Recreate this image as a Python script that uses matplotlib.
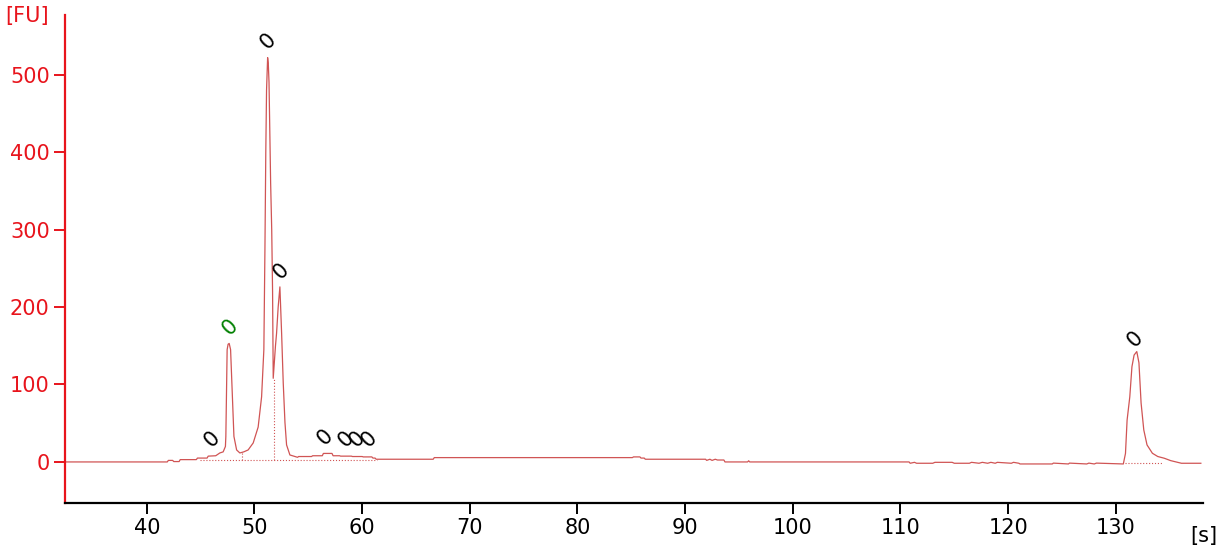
"""
Electropherogram trace (fluorescence vs migration time) with peak markers.
"""

import matplotlib
matplotlib.use("Agg")
import matplotlib.pyplot as plt

# trace: migration time [s] and fluorescence [FU]
time_s = [
    32.4, 41.9, 42.0, 42.4, 42.5, 43.0, 43.1, 44.6, 44.7, 45.6, 45.7, 46.4,
    46.78, 47.09, 47.3, 47.34, 47.46, 47.55, 47.65, 47.78, 47.96, 48.09,
    48.34, 48.64, 49.0, 49.41, 49.88, 50.34, 50.66, 50.87, 50.97, 51.05,
    51.12, 51.22, 51.28, 51.35, 51.42, 51.5, 51.6, 51.68, 51.74, 51.85,
    51.95, 52.05, 52.2, 52.36, 52.52, 52.67, 52.83, 52.98, 53.29, 54.0,
    54.1, 55.3, 55.4, 56.3, 56.4, 57.2, 57.3, 57.9, 58.0, 59.0, 59.1, 60.0,
    60.1, 60.9, 61.0, 61.2, 61.3, 66.6, 66.7, 85.1, 85.2, 85.8, 85.9, 86.2,
    86.3, 91.9, 92.0, 92.3, 92.5, 92.8, 93.0, 93.6, 93.7, 95.8, 95.9, 96.0,
    110.8, 110.9, 111.3, 111.5, 113.0, 113.2, 114.8, 115.0, 116.4, 116.6,
    117.3, 117.6, 118.1, 118.4, 118.8, 119.0, 120.3, 120.5, 121.0, 121.1,
    124.1, 124.2, 125.6, 125.7, 127.3, 127.5, 128.0, 128.2, 130.7, 130.9,
    131.05, 131.3, 131.5, 131.7, 131.95, 132.15, 132.35, 132.6, 132.9,
    133.4, 133.9, 134.5, 135.1, 136.1, 137.9,
]
fluor_fu = [
    0, 0, 2, 2, 0.5, 0.5, 3, 3, 5, 5, 7.5, 8,
    11.6, 13, 20, 33, 145, 152, 153, 145, 80, 33,
    15.5, 11.6, 13, 15.5, 24.5, 45, 84, 145, 274, 400,
    480, 522, 515, 490, 430, 360, 300, 220, 108, 130,
    150, 166, 200, 226, 166, 102, 51, 22, 9, 6,
    7, 7, 8, 8, 11, 11, 8, 8, 7.5, 7.5, 7, 7,
    6.5, 6.5, 5, 5, 3.5, 3.5, 5.6, 5.6, 6.5, 6.5, 5, 5,
    3.5, 3.5, 2, 3.5, 2, 3.5, 2.5, 2.5, 0, 0, 1.5, 0,
    0, -1.7, -0.5, -1.7, -1.7, -0.5, -0.5, -1.7, -1.7, -0.5,
    -1.7, -0.5, -1.7, -0.5, -1.7, -0.5, -1.7, -0.5, -1.7, -2.6,
    -2.6, -1.5, -2.6, -1.5, -2.6, -1.5, -2.6, -1.5, -2.6, 11,
    54, 84, 123, 138, 142.5, 128, 76, 41.3, 22,
    11.2, 7, 4.8, 1.7, -1.7, -1.7,
]

# integration baselines (dotted)
base_segments = [
    ([44.9, 61.35], [2.6, 2.6]),
    ([48.8, 48.8], [2.6, 11.6]),
    ([51.8, 51.8], [2.6, 108]),
    ([130.9, 134.3], [-1.7, -1.7]),
]

# peak markers: time, height, colour
peak_t = [46.04, 47.71, 51.25, 52.45, 56.6, 58.5, 59.5, 60.6, 131.8]
peak_fu = [29.7, 174, 543, 247, 32, 30, 30, 30, 159]
peak_col = ["black", "green", "black", "black", "black", "black", "black", "black", "black"]

trace_col = "#d05454"
axis_red = "#e8141c"

fig = plt.figure(figsize=(12.21, 5.5), dpi=100)
ax = fig.add_axes([65 / 1221, 47 / 550, (1203 - 65) / 1221, (503 - 15) / 550])

ax.plot(time_s, fluor_fu, color=trace_col, lw=0.9)
for xs, ys in base_segments:
    ax.plot(xs, ys, color=trace_col, lw=0.8, ls=":")

for t, f, c in zip(peak_t, peak_fu, peak_col):
    ax.text(t, f, "0", rotation=45, ha="center", va="center", color=c, fontsize=15)

ax.set_xlim(32.4, 138.1)
ax.set_ylim(-53, 577)
ax.set_xticks(range(40, 131, 10))
ax.set_yticks(range(0, 501, 100))

for side in ("top", "right"):
    ax.spines[side].set_visible(False)
ax.spines["left"].set_color(axis_red)
ax.spines["left"].set_linewidth(1.6)
ax.spines["bottom"].set_color("black")
ax.spines["bottom"].set_linewidth(1.6)

ax.tick_params(axis="y", colors=axis_red, labelsize=15, length=8, width=1.4, pad=3)
ax.tick_params(axis="x", colors="black", labelsize=15, length=8, width=1.4, pad=3)

fig.text(5 / 1221, 1 - 6 / 550, "[FU]", color=axis_red, fontsize=15, ha="left", va="top")
fig.text(1217 / 1221, 1 - 546 / 550, "[s]", color="black", fontsize=15, ha="right", va="bottom")

fig.savefig("out.png", dpi=100)
